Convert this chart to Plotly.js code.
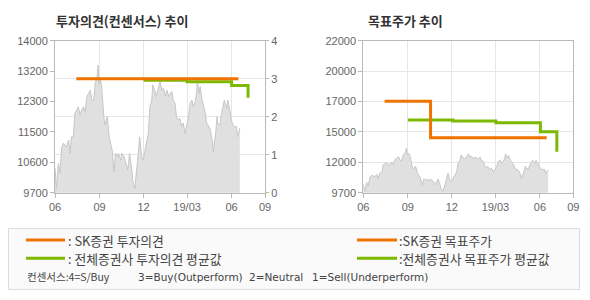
<!DOCTYPE html>
<html>
<head>
<meta charset="utf-8">
<script src="https://cdn.plot.ly/plotly-3.0.1.min.js"></script>
<style>html,body{margin:0;padding:0;background:#fff;}#chart{width:590px;height:300px;}</style>
</head>
<body>
<div id="chart"></div>
<script>
// ---- data ----
const priceDates = ['2018-06-01','2018-06-04','2018-06-08','2018-06-11','2018-06-15','2018-06-18','2018-06-25','2018-06-29',
'2018-07-02','2018-07-05','2018-07-09','2018-07-12','2018-07-16','2018-07-19','2018-07-23','2018-07-26','2018-07-30',
'2018-08-02','2018-08-06','2018-08-09','2018-08-13','2018-08-16','2018-08-20','2018-08-23','2018-08-27','2018-08-29','2018-08-31',
'2018-09-03','2018-09-05','2018-09-10','2018-09-12','2018-09-17','2018-09-19','2018-09-21','2018-09-27',
'2018-10-01','2018-10-04','2018-10-08','2018-10-10','2018-10-15','2018-10-17','2018-10-22','2018-10-24','2018-10-29','2018-10-31',
'2018-11-02','2018-11-06','2018-11-09','2018-11-13','2018-11-16','2018-11-20','2018-11-23','2018-11-27','2018-11-30',
'2018-12-04','2018-12-07','2018-12-11','2018-12-14','2018-12-18','2018-12-20','2018-12-24','2018-12-27',
'2019-01-02','2019-01-04','2019-01-08','2019-01-11','2019-01-15','2019-01-18','2019-01-22','2019-01-25','2019-01-29','2019-01-31',
'2019-02-04','2019-02-07','2019-02-11','2019-02-14','2019-02-18','2019-02-21','2019-02-25','2019-02-28',
'2019-03-04','2019-03-07','2019-03-11','2019-03-14','2019-03-18','2019-03-21','2019-03-22','2019-03-26','2019-03-28',
'2019-04-01','2019-04-03','2019-04-08','2019-04-10','2019-04-15','2019-04-17','2019-04-22','2019-04-24','2019-04-29',
'2019-05-02','2019-05-03','2019-05-08','2019-05-10','2019-05-15','2019-05-17','2019-05-22','2019-05-24','2019-05-29','2019-05-31',
'2019-06-04','2019-06-07','2019-06-11','2019-06-13','2019-06-17','2019-06-18'];
const priceValues = [10390,9820,10530,10250,11000,11100,11000,11190,
10810,11280,11280,11940,12040,12130,11900,12040,12130,
11990,12420,12510,12600,12320,12320,12790,12980,13310,12790,
12890,12750,11850,11610,11850,11470,11280,10910,
10290,10810,10720,10810,10620,10810,10720,10620,10340,10530,
10810,10440,10010,9820,10340,10810,11280,10720,10620,
10910,11100,11380,12130,12320,12750,12600,12420,
12700,12840,12600,12650,12420,12600,12420,12510,12560,12320,
12230,11850,11760,11800,11570,11670,11380,11570,
11850,12230,12320,12130,12280,12600,12840,12510,12700,
12320,12230,11940,11670,11570,11530,11190,10860,11380,
11850,11670,11610,11850,12230,12320,12080,12320,11990,11760,
11610,11570,11570,11280,11470,11530];

// SK securities investment opinion (consensus scale 1-4)
const skOpinionDates = ['2018-07-15','2019-06-15'];
const skOpinionValues = [3, 3];
// all-securities average opinion
const avgOpinionDates = ['2018-12-01','2019-03-01','2019-06-01','2019-07-05','2019-07-05'];
const avgOpinionValues = [2.96, 2.92, 2.82, 2.82, 2.5];

// SK securities target price
const skTargetDates = ['2018-07-15','2018-10-18','2019-06-15'];
const skTargetValues = [17100, 14150, 14150];
// all-securities average target price
const avgTargetDates = ['2018-09-01','2018-12-03','2019-03-02','2019-06-02','2019-07-06','2019-07-06'];
const avgTargetValues = [15580, 15510, 15360, 14630, 14630, 13020];

// ticks
const xTickDates = ['2018-06-01','2018-09-01','2018-12-01','2019-03-01','2019-06-01','2019-08-09'];
const xTickLabels = ['06','09','12','19/03','06','09'];
const xRange = ['2018-06-01','2019-08-09'];
const leftPriceTickVals = [9700,10560,11420,12280,13140,14000];
const leftPriceTickText = ['9700','10600','11500','12300','13200','14000'];
const opinionTickVals = [0,1,2,3,4];
const rightPriceTickVals = [9700,12160,14620,17080,19540,22000];
const rightPriceTickText = ['9700','12000','15000','17000','20000','22000'];

const titles = ['투자의견(컨센서스) 추이','목표주가 추이'];
const legendLeft = [': SK증권 투자의견', ': 전체증권사 투자의견 평균값'];
const legendRight = [':SK증권 목표주가', ':전체증권사 목표주가 평균값'];
const consensusNote = ['컨센서스:4=S/Buy','3=Buy(Outperform)','2=Neutral','1=Sell(Underperform)'];

// ---- styles ----
const ORANGE = '#f07300', GREEN = '#7cb900';
const GRID = '#e6e6e6', LINE = '#b9b9b9';
const W = 590, H = 300;
const px = x => x / W, py = y => 1 - y / H;
const tickFont = {family: 'Liberation Sans, Arial, sans-serif', size: 11, color: '#666'};
const korFont = 'Noto Sans CJK KR, sans-serif';
const noteFont = {family:'DejaVu Sans, sans-serif', size:10.5, color:'#444'};
const legFont = {family:korFont, size:12.8, color:'#444'};

const priceStyle = {type:'scatter', mode:'lines', fill:'tozeroy', fillcolor:'#e0e0e0',
  line:{color:'#c6c6c6', width:1}, hoverinfo:'skip'};

const data = [
  Object.assign({x: priceDates, y: priceValues, xaxis:'x', yaxis:'y'}, priceStyle),
  {x: avgOpinionDates, y: avgOpinionValues, xaxis:'x', yaxis:'y2', type:'scatter', mode:'lines',
   line:{color:GREEN, width:3, shape:'hv'}},
  {x: skOpinionDates, y: skOpinionValues, xaxis:'x', yaxis:'y2', type:'scatter', mode:'lines',
   line:{color:ORANGE, width:3, shape:'hv'}},
  Object.assign({x: priceDates, y: priceValues, xaxis:'x2', yaxis:'y3'}, priceStyle),
  {x: avgTargetDates, y: avgTargetValues, xaxis:'x2', yaxis:'y3', type:'scatter', mode:'lines',
   line:{color:GREEN, width:3, shape:'hv'}},
  {x: skTargetDates, y: skTargetValues, xaxis:'x2', yaxis:'y3', type:'scatter', mode:'lines',
   line:{color:ORANGE, width:3, shape:'hv'}}
];

const yDom = [py(192.7), py(40.7)];
const xAxisBase = {type:'date', range:xRange, tickmode:'array', tickvals:xTickDates, ticktext:xTickLabels,
  showgrid:true, gridcolor:GRID, gridwidth:1, showline:true, linecolor:LINE, linewidth:1, mirror:true,
  ticks:'outside', ticklen:4, tickcolor:LINE, tickfont:tickFont, zeroline:false, fixedrange:true};

function ann(text, x, y, font) {
  return {text:text, xref:'paper', yref:'paper', x:px(x), y:py(y), xanchor:'left', yanchor:'middle',
    showarrow:false, font:font};
}

const layout = {
  width: W, height: H, margin:{l:0,r:0,t:0,b:0},
  paper_bgcolor:'#fff', plot_bgcolor:'#fff', showlegend:false,
  xaxis: Object.assign({}, xAxisBase, {domain:[px(55), px(265)], anchor:'y'}),
  yaxis: {domain:yDom, anchor:'x', range:[9700,14000], tickmode:'array', tickvals:leftPriceTickVals,
    ticktext:leftPriceTickText, showgrid:false, showline:true, linecolor:LINE, ticks:'outside', ticklen:4,
    tickcolor:LINE, tickfont:tickFont, zeroline:false},
  yaxis2: {overlaying:'y', side:'right', anchor:'x', range:[0,4], tickmode:'array', tickvals:opinionTickVals,
    showgrid:true, gridcolor:GRID, showline:true, linecolor:LINE, ticks:'outside', ticklen:3, tickcolor:LINE,
    tickfont:tickFont, zeroline:false},
  xaxis2: Object.assign({}, xAxisBase, {domain:[px(363.3), px(573.3)], anchor:'y3'}),
  yaxis3: {domain:yDom, anchor:'x2', range:[9700,22000], tickmode:'array', tickvals:rightPriceTickVals,
    ticktext:rightPriceTickText, showgrid:true, gridcolor:GRID, showline:true, linecolor:LINE, mirror:true,
    ticks:'outside', ticklen:4, tickcolor:LINE, tickfont:tickFont, zeroline:false},
  shapes: [
    {type:'rect', xref:'paper', yref:'paper', x0:px(8.5), x1:px(579.5), y0:py(289.5), y1:py(228.5),
     fillcolor:'#fafafa', line:{color:'#dcdcdc', width:1}, layer:'below'},
    {type:'line', xref:'paper', yref:'paper', x0:px(26), x1:px(65), y0:py(240), y1:py(240), line:{color:ORANGE, width:3}},
    {type:'line', xref:'paper', yref:'paper', x0:px(26), x1:px(65), y0:py(258.3), y1:py(258.3), line:{color:GREEN, width:3}},
    {type:'line', xref:'paper', yref:'paper', x0:px(357), x1:px(397), y0:py(240), y1:py(240), line:{color:ORANGE, width:3}},
    {type:'line', xref:'paper', yref:'paper', x0:px(357), x1:px(397), y0:py(258.3), y1:py(258.3), line:{color:GREEN, width:3}}
  ],
  annotations: [
    ann(titles[0], 54, 20.7, {family:korFont, size:13, color:'#333', weight:'bold'}),
    ann(titles[1], 366, 20.7, {family:korFont, size:13, color:'#333', weight:'bold'}),
    ann(legendLeft[0], 66, 240, legFont),
    ann(legendLeft[1], 66, 258.3, legFont),
    ann(legendRight[0], 397, 240, legFont),
    ann(legendRight[1], 397, 258.3, legFont),
    ann(consensusNote[0], 25, 276.7, {family:korFont, size:10.5, color:'#444'}),
    ann(consensusNote[1], 136, 276.7, noteFont),
    ann(consensusNote[2], 247, 276.7, noteFont),
    ann(consensusNote[3], 310, 276.7, noteFont)
  ]
};

Plotly.newPlot('chart', data, layout, {staticPlot:true, displayModeBar:false});
</script>
</body>
</html>
